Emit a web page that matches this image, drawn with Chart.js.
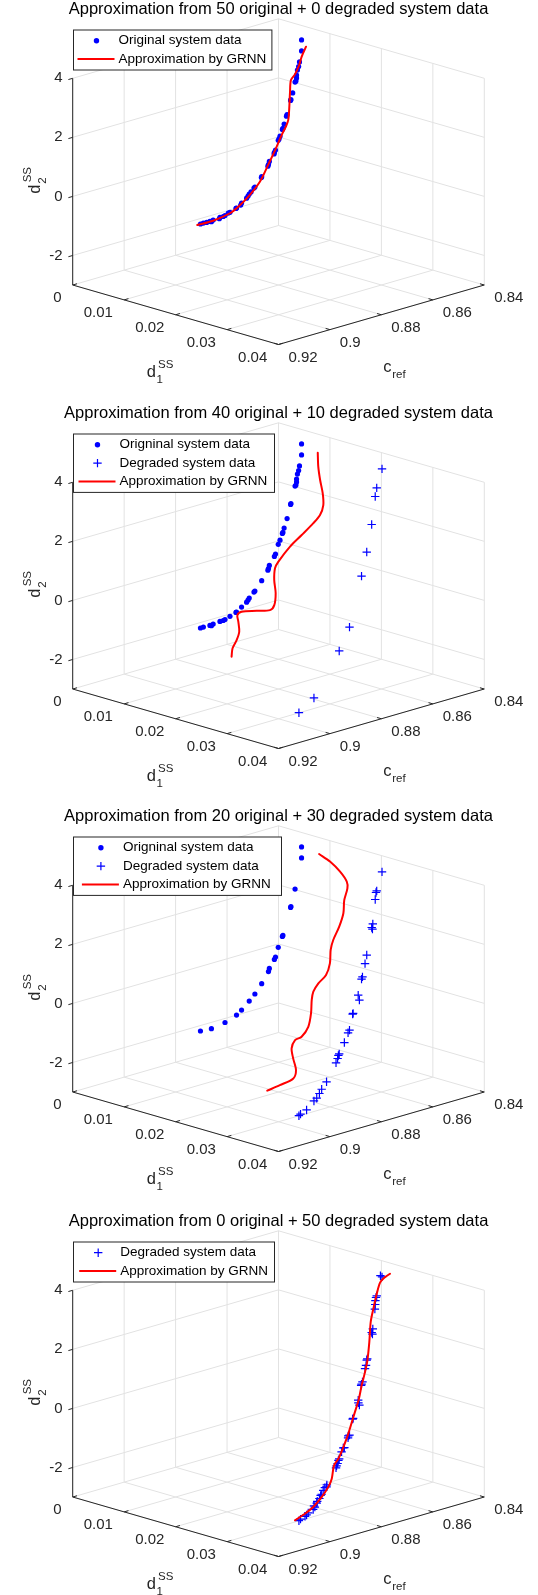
<!DOCTYPE html>
<html>
<head>
<meta charset="utf-8">
<script src="https://cdn.jsdelivr.net/npm/chart.js@4.4.1/dist/chart.umd.min.js"></script>
<style>
    html, body { margin: 0; padding: 0; background: #fff; }
    body { width: 538px; height: 1595px; position: relative; overflow: hidden; }
    .panel { position: absolute; left: 0; width: 538px; height: 404px; }
</style>
</head>
<body>
<div class="panel" style="top:0px"><canvas id="p1" width="538" height="404"></canvas></div>
<div class="panel" style="top:404px"><canvas id="p2" width="538" height="404"></canvas></div>
<div class="panel" style="top:807px"><canvas id="p3" width="538" height="404"></canvas></div>
<div class="panel" style="top:1212px"><canvas id="p4" width="538" height="404"></canvas></div>
<script>
"use strict";

// Axis limits and ticks
var crefLim = [0.84, 0.92];
var d1Lim = [0, 0.04];
var d2Lim = [-3, 4];
var crefTicks = [0.84, 0.86, 0.88, 0.9, 0.92];
var d1Ticks = [0, 0.01, 0.02, 0.03, 0.04];
var d2Ticks = [-2, 0, 2, 4];

// Original system data (50 samples)
var origCref = [0.8426, 0.8426, 0.8433, 0.8436, 0.8440, 0.8443, 0.8443, 0.8445, 0.8448, 0.8456,
    0.8462, 0.8463, 0.8475, 0.8477, 0.8485, 0.8489, 0.8491, 0.8499, 0.8502, 0.8505,
    0.8514, 0.8518, 0.8519, 0.8535, 0.8538, 0.8540, 0.8561, 0.8562, 0.8584, 0.8587,
    0.8597, 0.8603, 0.8607, 0.8612, 0.8629, 0.8632, 0.8646, 0.8648, 0.8668, 0.8674,
    0.8685, 0.8691, 0.8702, 0.8704, 0.8725, 0.8731, 0.8736, 0.8747, 0.8758, 0.8768];
var origD1 = [0.00578, 0.00578, 0.00573, 0.00571, 0.00568, 0.00566, 0.00566, 0.00564, 0.00562, 0.00556,
    0.00552, 0.00550, 0.00542, 0.00540, 0.00534, 0.00531, 0.00530, 0.00524, 0.00521, 0.00520,
    0.00512, 0.00510, 0.00509, 0.00497, 0.00495, 0.00494, 0.00478, 0.00477, 0.00461, 0.00458,
    0.00451, 0.00446, 0.00443, 0.00440, 0.00427, 0.00425, 0.00414, 0.00413, 0.00397, 0.00393,
    0.00385, 0.00381, 0.00372, 0.00370, 0.00355, 0.00351, 0.00347, 0.00339, 0.00330, 0.00323];
var origD2 = [3.64, 3.27, 2.91, 2.76, 2.65, 2.49, 2.39, 2.29, 2.26, 1.91,
    1.70, 1.67, 1.22, 1.17, 0.92, 0.78, 0.75, 0.54, 0.45, 0.41,
    0.10, 0.03, -0.02, -0.24, -0.34, -0.39, -0.70, -0.73, -1.00, -1.03,
    -1.14, -1.20, -1.26, -1.32, -1.45, -1.51, -1.58, -1.59, -1.68, -1.69,
    -1.75, -1.77, -1.78, -1.82, -1.82, -1.86, -1.84, -1.85, -1.85, -1.86];

// Degraded system data (50 samples)
var degrCref = [0.8461, 0.8462, 0.8502, 0.8506, 0.8512, 0.8519, 0.8527, 0.8563, 0.8571, 0.8572,
    0.8622, 0.8625, 0.8635, 0.8642, 0.8669, 0.8674, 0.8677, 0.8707, 0.8711, 0.8712,
    0.8746, 0.8748, 0.8780, 0.8784, 0.8787, 0.8810, 0.8813, 0.8823, 0.8839, 0.8843,
    0.8849, 0.8855, 0.8859, 0.8905, 0.8908, 0.8913, 0.8921, 0.8930, 0.8934, 0.8941,
    0.8950, 0.8954, 0.8964, 0.8964, 0.8971, 0.8986, 0.8993, 0.8998, 0.9011, 0.9017];
var degrD1 = [0.02317, 0.02291, 0.02419, 0.02425, 0.02444, 0.02475, 0.02508, 0.02648, 0.02666, 0.02686,
    0.02835, 0.02840, 0.02876, 0.02892, 0.02977, 0.02984, 0.02991, 0.03084, 0.03108, 0.03132,
    0.03180, 0.03181, 0.03280, 0.03276, 0.03287, 0.03330, 0.03324, 0.03341, 0.03375, 0.03379,
    0.03394, 0.03404, 0.03413, 0.03465, 0.03474, 0.03466, 0.03474, 0.03489, 0.03489, 0.03500,
    0.03503, 0.03513, 0.03527, 0.03509, 0.03529, 0.03508, 0.03511, 0.03506, 0.03483, 0.03482];
var degrD2 = [3.76, 3.79, 3.27, 3.23, 3.15, 3.05, 2.93, 2.42, 2.33, 2.29,
    1.65, 1.62, 1.48, 1.40, 1.06, 1.00, 0.97, 0.59, 0.52, 0.46,
    0.12, 0.10, -0.31, -0.33, -0.38, -0.63, -0.64, -0.74, -0.92, -0.96,
    -1.04, -1.10, -1.15, -1.59, -1.64, -1.66, -1.73, -1.83, -1.86, -1.94,
    -2.01, -2.06, -2.16, -2.13, -2.22, -2.31, -2.36, -2.40, -2.47, -2.51];

// Samples used for each training set
var allIdx = origCref.map(function (v, i) { return i; });
var orig40Idx = [0, 1, 2, 3, 4, 5, 6, 7, 8, 10, 11, 12, 14, 15, 16, 17, 19, 20, 21, 23,
    24, 25, 26, 28, 29, 31, 32, 33, 34, 36, 37, 38, 40, 41, 42, 44, 45, 46, 48, 49];
var orig20Idx = [0, 1, 8, 10, 11, 15, 16, 19, 20, 21, 23, 24, 26, 28, 31, 34, 36, 40, 45, 49];
var degr10Idx = [0, 2, 5, 8, 11, 15, 22, 28, 43, 49];
var degr30Idx = [0, 2, 3, 5, 7, 8, 9, 11, 13, 14, 15, 17, 19, 20, 21, 22, 24, 25, 28, 29,
    30, 32, 34, 37, 39, 41, 43, 46, 48, 49];

// GRNN approximations
var grnn1Cref = [0.8779, 0.8725, 0.8668, 0.8640, 0.8606, 0.8567, 0.8539, 0.8510, 0.8493, 0.8479,
    0.8471, 0.8468, 0.8465, 0.8462, 0.8448, 0.8434, 0.8426, 0.8411];
var grnn1D1 = [0.00315, 0.00355, 0.00397, 0.00418, 0.00444, 0.00473, 0.00494, 0.00515, 0.00528, 0.00539,
    0.00545, 0.00547, 0.00549, 0.00552, 0.00562, 0.00573, 0.00579, 0.00590];
var grnn1D2 = [-1.87, -1.84, -1.71, -1.55, -1.28, -0.86, -0.35, 0.21, 0.57, 0.82,
    1.03, 1.36, 1.97, 2.36, 2.53, 2.81, 3.07, 3.38];

var grnn2Cref = [0.8972, 0.8957, 0.8936, 0.8918, 0.8904, 0.8895, 0.8882, 0.8851, 0.8824, 0.8808,
    0.8787, 0.8769, 0.8749, 0.8732, 0.8686, 0.8645, 0.8604, 0.8578, 0.8556, 0.8539,
    0.8523, 0.8506, 0.8485];
var grnn2D1 = [0.01948, 0.01892, 0.01866, 0.01827, 0.01739, 0.01676, 0.01693, 0.01831, 0.01955, 0.01958,
    0.01880, 0.01762, 0.01677, 0.01658, 0.01654, 0.01676, 0.01697, 0.01697, 0.01651, 0.01554,
    0.01424, 0.01303, 0.01188];
var grnn2D2 = [-1.50, -1.28, -1.07, -0.85, -0.59, -0.42, -0.33, -0.31, -0.29, -0.16,
    0.15, 0.49, 0.80, 0.97, 1.36, 1.66, 1.97, 2.18, 2.44, 2.75,
    3.09, 3.44, 3.80];

var grnn3Cref = [0.8972, 0.8938, 0.8900, 0.8881, 0.8867, 0.8853, 0.8832, 0.8814, 0.8784, 0.8756,
    0.8732, 0.8715, 0.8691, 0.8662, 0.8635, 0.8611, 0.8589, 0.8555, 0.8524, 0.8500,
    0.8474, 0.8464, 0.8460, 0.8463, 0.8471];
var grnn3D1 = [0.02641, 0.02717, 0.02789, 0.02745, 0.02620, 0.02520, 0.02482, 0.02519, 0.02499, 0.02412,
    0.02306, 0.02252, 0.02230, 0.02234, 0.02174, 0.02069, 0.02009, 0.01955, 0.01881, 0.01778,
    0.01709, 0.01647, 0.01497, 0.01316, 0.01144];
var grnn3D2 = [-2.20, -2.06, -1.89, -1.68, -1.38, -1.13, -0.92, -0.83, -0.58, -0.24,
    0.10, 0.31, 0.52, 0.73, 1.03, 1.37, 1.62, 1.96, 2.30, 2.63,
    2.93, 3.10, 3.35, 3.61, 3.80];

var grnn4Cref = [0.9024, 0.8994, 0.8967, 0.8934, 0.8905, 0.8885, 0.8859, 0.8840, 0.8811, 0.8780,
    0.8743, 0.8703, 0.8676, 0.8648, 0.8624, 0.8591, 0.8556, 0.8529, 0.8498, 0.8474,
    0.8459, 0.8440];
var grnn4D1 = [0.03440, 0.03484, 0.03510, 0.03511, 0.03494, 0.03460, 0.03374, 0.03363, 0.03316, 0.03257,
    0.03171, 0.03078, 0.02996, 0.02921, 0.02848, 0.02720, 0.02572, 0.02489, 0.02401, 0.02344,
    0.02345, 0.02368];
var grnn4D2 = [-2.50, -2.33, -2.16, -1.90, -1.64, -1.43, -1.09, -0.92, -0.62, -0.27,
    0.16, 0.63, 0.97, 1.31, 1.61, 2.08, 2.60, 2.94, 3.33, 3.61,
    3.73, 3.84];


var FONT = '"Liberation Sans", Arial, Helvetica, sans-serif';
var AXIS_COLOR = '#262626';
var GRID_COLOR = '#e2e2e2';
var BLUE = '#0000ff';
var RED = '#ff0000';
var CROSS = 4.2;

// 3-D view: floor edges drop by DEPTH per unit, box height HEIGHT (both in x units)
var DEPTH = 0.2891;
var HEIGHT = 1.0044;

function project(c, d1, d2) {
    var u = (d1 - d1Lim[0]) / (d1Lim[1] - d1Lim[0]);
    var v = (crefLim[1] - c) / (crefLim[1] - crefLim[0]);
    var w = (d2 - d2Lim[0]) / (d2Lim[1] - d2Lim[0]);
    return { x: u + v, y: DEPTH * (v - u) + HEIGHT * w };
}

function pick(arr, idx) {
    return idx.map(function (i) { return arr[i]; });
}

function toPoints(cref, d1, d2) {
    return cref.map(function (c, i) { return project(c, d1[i], d2[i]); });
}

function texLabel(ctx, x, y, base, sub, sup) {
    ctx.font = '16.5px ' + FONT;
    ctx.textAlign = 'left';
    ctx.textBaseline = 'alphabetic';
    ctx.fillText(base, x, y);
    var bx = x + ctx.measureText(base).width + 0.6;
    ctx.font = '11.5px ' + FONT;
    if (sub) ctx.fillText(sub, bx, y + 6.6);
    if (sup) ctx.fillText(sup, bx + 1.5, y - 8.4);
}


// Box, grid, ticks, labels, title and legend of one panel
function frame(panel) {
    return {
        id: 'frame3d',
        beforeDatasetsDraw: function (chart) {
            var ctx = chart.ctx;
            var xs = chart.scales.x, ys = chart.scales.y;
            var P = function (c, d1, d2) {
                var p = project(c, d1, d2);
                return { x: xs.getPixelForValue(p.x), y: ys.getPixelForValue(p.y) };
            };
            var seg = function (a, b) {
                ctx.beginPath(); ctx.moveTo(a.x, a.y); ctx.lineTo(b.x, b.y); ctx.stroke();
            };
            var cF = crefLim[1], cB = crefLim[0], dL = d1Lim[0], dF = d1Lim[1], zL = d2Lim[0], zH = d2Lim[1];

            ctx.save();
            ctx.lineWidth = 1;

            // grid on floor and back walls
            ctx.strokeStyle = GRID_COLOR;
            d1Ticks.forEach(function (t) {
                seg(P(cF, t, zL), P(cB, t, zL));
                seg(P(cB, t, zL), P(cB, t, zH));
            });
            crefTicks.forEach(function (t) {
                seg(P(t, dL, zL), P(t, dF, zL));
                seg(P(t, dL, zL), P(t, dL, zH));
            });
            d2Ticks.forEach(function (t) {
                seg(P(cF, dL, t), P(cB, dL, t));
                seg(P(cB, dL, t), P(cB, dF, t));
            });

            // axis lines
            ctx.strokeStyle = AXIS_COLOR;
            var o = P(cF, dL, zL);
            seg(o, P(cF, dL, zH));
            seg(o, P(cF, dF, zL));
            seg(P(cF, dF, zL), P(cB, dF, zL));

            var unit = function (a, b) {
                var dx = b.x - a.x, dy = b.y - a.y, n = Math.sqrt(dx * dx + dy * dy);
                return { x: dx / n, y: dy / n };
            };
            var eu = unit(o, P(cF, dF, zL));
            var ev = unit(o, P(cB, dL, zL));
            var TL = 4.5;

            ctx.fillStyle = AXIS_COLOR;
            ctx.font = '15px ' + FONT;
            ctx.textBaseline = 'middle';

            // d1 axis
            ctx.textAlign = 'right';
            d1Ticks.forEach(function (t) {
                var p = P(cF, t, zL);
                seg(p, { x: p.x + ev.x * TL, y: p.y + ev.y * TL });
                ctx.fillText(String(t), p.x - 11.2, p.y + 13.3);
            });
            // c_ref axis
            ctx.textAlign = 'left';
            crefTicks.forEach(function (t) {
                var p = P(t, dF, zL);
                seg(p, { x: p.x - eu.x * TL, y: p.y - eu.y * TL });
                ctx.fillText(String(t), p.x + 9.9, p.y + 13.1);
            });
            // d2 axis
            ctx.textAlign = 'right';
            d2Ticks.forEach(function (t) {
                var p = P(cF, dL, t);
                seg(p, { x: p.x - ev.x * TL, y: p.y - ev.y * TL });
                ctx.fillText(String(t), p.x - 10.2, p.y);
            });

            // axis titles
            var m1 = P(cF, (dL + dF) / 2, zL);
            texLabel(ctx, m1.x - 28.9, m1.y + 62, 'd', '1', 'SS');
            var mc = P((cF + cB) / 2, dF, zL);
            texLabel(ctx, mc.x + 1.9, mc.y + 57, 'c', 'ref', '');
            var mz = P(cF, dL, (zL + zH) / 2);
            ctx.translate(mz.x - 33.2, mz.y + 12);
            ctx.rotate(-Math.PI / 2);
            texLabel(ctx, 0, 0, 'd', '2', 'SS');
            ctx.restore();
        },
        afterDraw: function (chart) {
            var ctx = chart.ctx;
            var area = chart.chartArea;
            ctx.save();

            // title
            ctx.fillStyle = '#000';
            ctx.font = '16.5px ' + FONT;
            ctx.textAlign = 'center';
            ctx.textBaseline = 'middle';
            ctx.fillText(panel.title, (area.left + area.right) / 2, 9.5);

            // legend
            var rows = panel.legend;
            var left = 73.5, top = 30, rowH = 18.4;
            var h = 21.6 + (rows.length - 1) * rowH;
            ctx.fillStyle = '#fff';
            ctx.fillRect(left, top, panel.legendW, h);
            ctx.strokeStyle = AXIS_COLOR;
            ctx.lineWidth = 1;
            ctx.strokeRect(left, top, panel.legendW, h);
            var tx = left + panel.legendSym;
            rows.forEach(function (r, i) {
                var cy = top + 10.7 + i * rowH;
                var mx = tx - 22;
                if (r.kind === 'dot') {
                    ctx.fillStyle = BLUE;
                    ctx.beginPath(); ctx.arc(mx, cy, 2.7, 0, Math.PI * 2); ctx.fill();
                } else if (r.kind === 'plus') {
                    ctx.strokeStyle = BLUE; ctx.lineWidth = 1.2;
                    ctx.beginPath();
                    ctx.moveTo(mx - CROSS, cy); ctx.lineTo(mx + CROSS, cy);
                    ctx.moveTo(mx, cy - CROSS); ctx.lineTo(mx, cy + CROSS);
                    ctx.stroke();
                } else {
                    ctx.strokeStyle = RED; ctx.lineWidth = 2;
                    ctx.beginPath(); ctx.moveTo(tx - 41, cy); ctx.lineTo(tx - 4, cy); ctx.stroke();
                }
                ctx.fillStyle = '#000';
                ctx.font = '13.5px ' + FONT;
                ctx.textAlign = 'left';
                ctx.textBaseline = 'middle';
                ctx.fillText(r.text, tx, cy);
            });
            ctx.restore();
        }
    };
}


var panels = [
    { id: 'p1', origIdx: allIdx, degrIdx: [], grnn: [grnn1Cref, grnn1D1, grnn1D2],
      origText: 'Original system data', legendW: 198.4, legendSym: 45 },
    { id: 'p2', origIdx: orig40Idx, degrIdx: degr10Idx, grnn: [grnn2Cref, grnn2D1, grnn2D2],
      origText: 'Origninal system data', legendW: 201, legendSym: 46 },
    { id: 'p3', origIdx: orig20Idx, degrIdx: degr30Idx, grnn: [grnn3Cref, grnn3D1, grnn3D2],
      origText: 'Origninal system data', legendW: 208, legendSym: 49.4 },
    { id: 'p4', origIdx: [], degrIdx: allIdx, grnn: [grnn4Cref, grnn4D1, grnn4D2],
      origText: '', legendW: 201, legendSym: 46.7 }
];

panels.forEach(function (panel) {
    panel.title = 'Approximation from ' + panel.origIdx.length + ' original + ' +
        panel.degrIdx.length + ' degraded system data';

    var datasets = [{
        label: 'Approximation by GRNN',
        data: toPoints(panel.grnn[0], panel.grnn[1], panel.grnn[2]),
        showLine: true,
        borderColor: RED,
        borderWidth: 2,
        borderJoinStyle: 'round',
        borderCapStyle: 'round',
        tension: 0.3,
        pointRadius: 0,
        clip: false
    }];
    panel.legend = [];

    if (panel.degrIdx.length) {
        datasets.push({
            label: 'Degraded system data',
            data: toPoints(pick(degrCref, panel.degrIdx), pick(degrD1, panel.degrIdx), pick(degrD2, panel.degrIdx)),
            pointStyle: 'cross',
            pointRadius: CROSS,
            pointBorderColor: BLUE,
            pointBorderWidth: 1.2,
            borderColor: BLUE,
            clip: false
        });
    }
    if (panel.origIdx.length) {
        datasets.push({
            label: panel.origText,
            data: toPoints(pick(origCref, panel.origIdx), pick(origD1, panel.origIdx), pick(origD2, panel.origIdx)),
            pointStyle: 'circle',
            pointRadius: 2.6,
            pointBackgroundColor: BLUE,
            pointBorderWidth: 0,
            backgroundColor: BLUE,
            clip: false
        });
        panel.legend.push({ kind: 'dot', text: panel.origText });
    }
    if (panel.degrIdx.length) panel.legend.push({ kind: 'plus', text: 'Degraded system data' });
    panel.legend.push({ kind: 'line', text: 'Approximation by GRNN' });

    new Chart(document.getElementById(panel.id), {
        type: 'scatter',
        data: { datasets: datasets },
        options: {
            responsive: false,
            animation: false,
            devicePixelRatio: 1,
            events: [],
            layout: { padding: { left: 72.7, right: 53.7, top: 18.8, bottom: 59.5 } },
            scales: {
                x: { type: 'linear', display: false, min: 0, max: 2 },
                y: { type: 'linear', display: false, min: -DEPTH, max: DEPTH + HEIGHT }
            },
            plugins: {
                legend: { display: false },
                title: { display: false },
                tooltip: { enabled: false }
            }
        },
        plugins: [frame(panel)]
    });
});
</script>
</body>
</html>
